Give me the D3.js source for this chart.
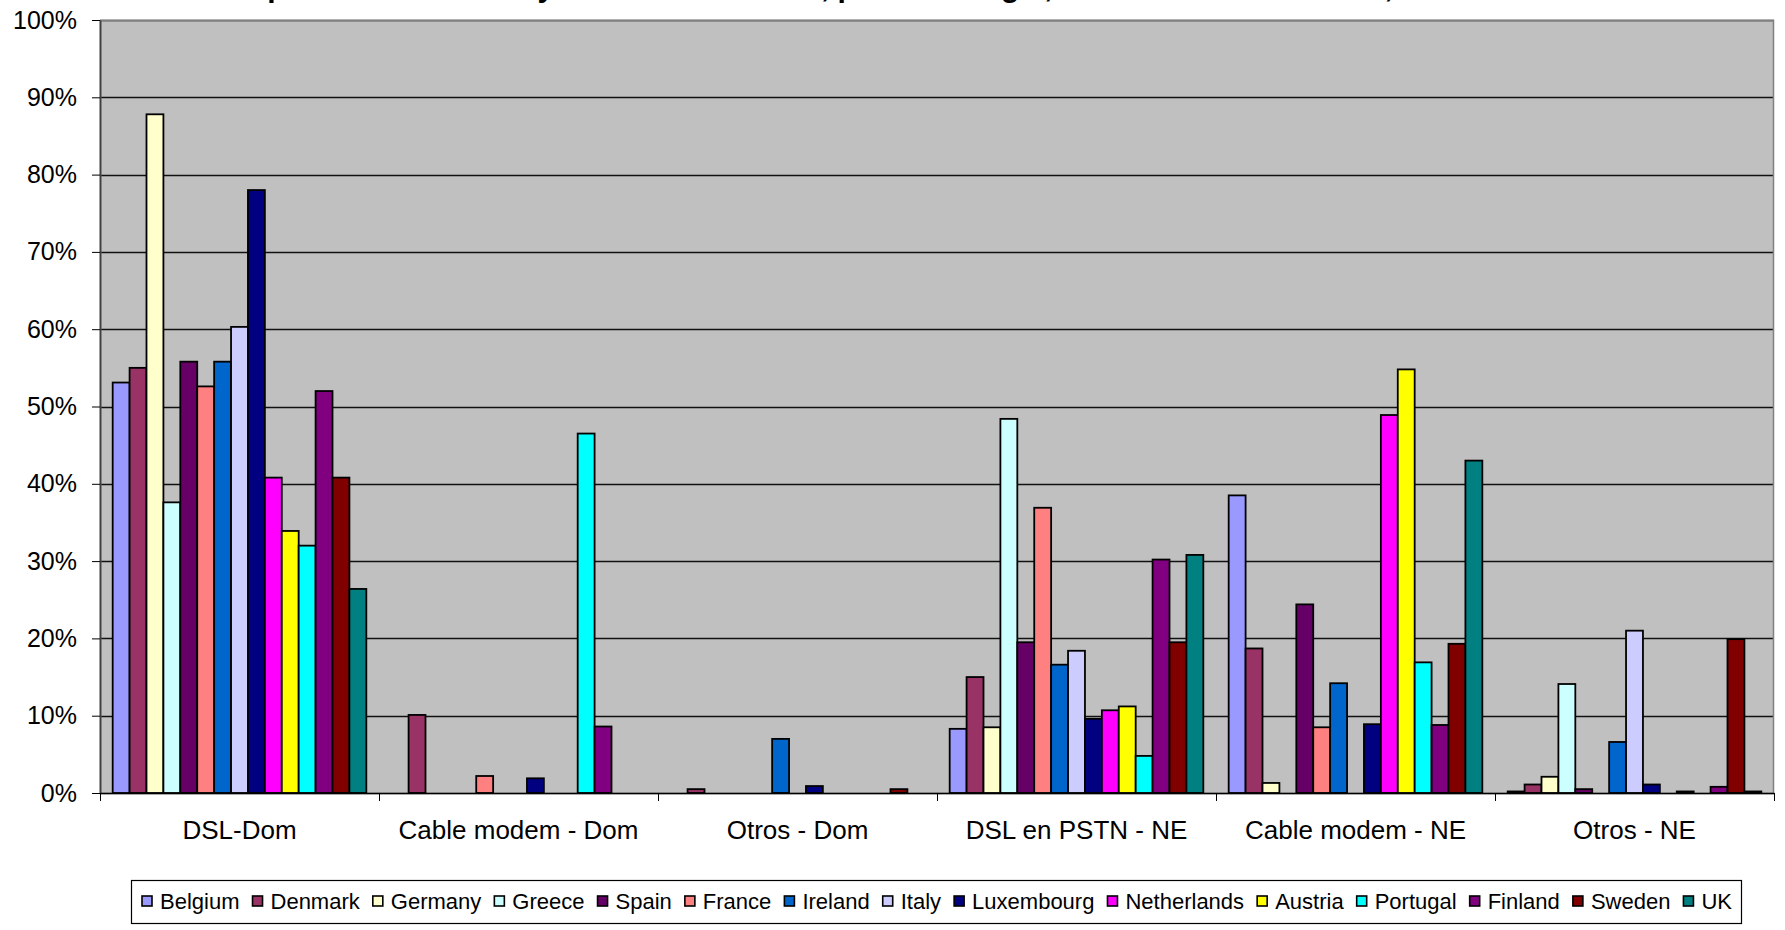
<!DOCTYPE html>
<html>
<head>
<meta charset="utf-8">
<script src="https://cdn.jsdelivr.net/npm/d3@7"></script>
<style>
  html, body { margin: 0; padding: 0; background: #ffffff; }
  svg { display: block; }
  text { font-family: "Liberation Sans", Arial, sans-serif; }
</style>
</head>
<body>
<svg id="chart" width="1785" height="930"></svg>
<script>
// Broadband lines by technology and user segment, share per country (%)
const categories = ["DSL-Dom", "Cable modem - Dom", "Otros - Dom", "DSL en PSTN - NE", "Cable modem - NE", "Otros - NE"];
const countries = ["Belgium", "Denmark", "Germany", "Greece", "Spain", "France", "Ireland", "Italy",
                   "Luxembourg", "Netherlands", "Austria", "Portugal", "Finland", "Sweden", "UK"];
const colors = ["#9999FF", "#993366", "#FFFFCC", "#CCFFFF", "#660066", "#FF8080", "#0066CC", "#CCCCFF",
                "#000080", "#FF00FF", "#FFFF00", "#00FFFF", "#800080", "#800000", "#008080"];

// one array per category, values in country order
const dslDom   = [53.1, 55.0, 87.8, 37.6, 55.8, 52.6, 55.8, 60.3, 78.0, 40.8, 33.9, 32.0, 52.0, 40.8, 26.4];
const cableDom = [0, 10.1, 0, 0, 0, 2.2, 0, 0, 1.9, 0, 0, 46.5, 8.6, 0, 0];
const otrosDom = [0, 0.5, 0, 0, 0, 0, 7.0, 0, 0.9, 0, 0, 0, 0, 0.5, 0];
const dslNE    = [8.3, 15.0, 8.5, 48.4, 19.5, 36.9, 16.6, 18.4, 9.6, 10.7, 11.2, 4.8, 30.2, 19.5, 30.8];
const cableNE  = [38.5, 18.7, 1.3, 0, 24.4, 8.5, 14.2, 0, 8.9, 48.9, 54.8, 16.9, 8.8, 19.3, 43.0];
const otrosNE  = [0.2, 1.1, 2.1, 14.1, 0.5, 0, 6.6, 21.0, 1.1, 0, 0.2, 0, 0.8, 19.9, 0.2];

const yTicks = [0, 10, 20, 30, 40, 50, 60, 70, 80, 90, 100];
const titleText = "Reparto de las líneas y accesos de banda, por tecnología, usuarios residenciales, 2004";

const seriesByCategory = [dslDom, cableDom, otrosDom, dslNE, cableNE, otrosNE];

const svg = d3.select("#chart");
const W = 1785, H = 930;
const plot = { left: 100, right: 1774, top: 20, bottom: 793 };

svg.append("rect").attr("width", W).attr("height", H).attr("fill", "#ffffff");

// title sits above the top edge
svg.append("text")
  .attr("x", 229).attr("y", -3)
  .attr("font-size", 30).attr("font-weight", "bold")
  .attr("fill", "#000")
  .text(titleText);

const x0 = d3.scaleBand().domain(categories).range([plot.left, plot.right]).paddingInner(0).paddingOuter(0);
const x1 = d3.scaleBand().domain(countries).range([0, x0.bandwidth()]).paddingInner(0).paddingOuter(0.75);
const y = d3.scaleLinear().domain([0, 100]).range([plot.bottom, plot.top]);
const color = d3.scaleOrdinal().domain(countries).range(colors);

// plot background
svg.append("rect")
  .attr("x", plot.left).attr("y", plot.top)
  .attr("width", plot.right - plot.left).attr("height", plot.bottom - plot.top)
  .attr("fill", "#C0C0C0");

// gridlines
svg.append("g").selectAll("line")
  .data(yTicks.filter(d => d > 0))
  .join("line")
  .attr("x1", plot.left).attr("x2", plot.right)
  .attr("y1", d => Math.round(y(d)) + 0.5).attr("y2", d => Math.round(y(d)) + 0.5)
  .attr("stroke", "#111").attr("stroke-width", 1.3);

// plot frame
svg.append("rect")
  .attr("x", plot.left + 0.5).attr("y", plot.top + 0.5)
  .attr("width", plot.right - plot.left - 1).attr("height", plot.bottom - plot.top)
  .attr("fill", "none").attr("stroke", "#808080").attr("stroke-width", 1.5);

// bars
const groups = svg.append("g").selectAll("g")
  .data(categories.map((c, i) => ({ cat: c, values: seriesByCategory[i] })))
  .join("g")
  .attr("transform", d => `translate(${x0(d.cat)},0)`);

groups.selectAll("rect")
  .data(d => d.values.map((v, j) => ({ country: countries[j], value: v })).filter(e => e.value > 0))
  .join("rect")
  .attr("x", d => x1(d.country))
  .attr("width", x1.bandwidth())
  .attr("y", d => y(d.value))
  .attr("height", d => y(0) - y(d.value))
  .attr("fill", d => color(d.country))
  .attr("stroke", "#000")
  .attr("stroke-width", 1.8);

// y axis
const yAxis = svg.append("g")
  .attr("transform", `translate(${plot.left},0)`)
  .call(d3.axisLeft(y).tickValues(yTicks).tickFormat(d => d + "%").tickSize(8).tickPadding(15).tickSizeOuter(0));
yAxis.select(".domain").attr("stroke", "#404040").attr("stroke-width", 1.8);
yAxis.selectAll(".tick line").attr("stroke", "#000");
yAxis.selectAll("text").attr("font-size", 25).attr("fill", "#000")
  .attr("font-family", "'Liberation Sans', Arial, sans-serif");

// x axis: labels centred on categories, ticks on boundaries
const xAxis = svg.append("g")
  .attr("transform", `translate(0,${plot.bottom})`)
  .call(d3.axisBottom(x0).tickSize(0).tickPadding(28).tickSizeOuter(0));
xAxis.select(".domain").attr("stroke", "#000").attr("stroke-width", 1.5);
xAxis.selectAll("text").attr("font-size", 26).attr("fill", "#000")
  .attr("font-family", "'Liberation Sans', Arial, sans-serif");

const boundaries = categories.map(c => x0(c)).concat([plot.right]);
svg.append("g").selectAll("line")
  .data(boundaries)
  .join("line")
  .attr("x1", d => Math.round(d) + 0.5).attr("x2", d => Math.round(d) + 0.5)
  .attr("y1", plot.bottom).attr("y2", plot.bottom + 8)
  .attr("stroke", "#000");

// legend
const legendBox = { x: 131, y: 880, w: 1610, h: 43 };
svg.append("rect")
  .attr("x", legendBox.x + 0.5).attr("y", legendBox.y + 0.5)
  .attr("width", legendBox.w).attr("height", legendBox.h)
  .attr("fill", "#fff").attr("stroke", "#000").attr("stroke-width", 1.2);

const legend = svg.append("g");
const items = legend.selectAll("g").data(countries).join("g");
items.append("rect")
  .attr("width", 10).attr("height", 10)
  .attr("y", legendBox.y + 16)
  .attr("fill", d => color(d))
  .attr("stroke", "#000").attr("stroke-width", 1.6);
items.append("text")
  .attr("font-size", 22)
  .attr("y", legendBox.y + 29)
  .attr("fill", "#000")
  .text(d => d);

// spread entries between the first swatch and the last label end
const swatchGap = 8;
const widths = [];
items.select("text").each(function () { widths.push(this.getComputedTextLength()); });
const startX = 142, endX = 1732;
const content = d3.sum(widths) + countries.length * (10 + swatchGap);
const gap = (endX - startX - content) / (countries.length - 1);
let cx = startX;
items.each(function (d, i) {
  const g = d3.select(this);
  g.select("rect").attr("x", cx);
  g.select("text").attr("x", cx + 10 + swatchGap);
  cx += 10 + swatchGap + widths[i] + gap;
});
</script>
</body>
</html>
